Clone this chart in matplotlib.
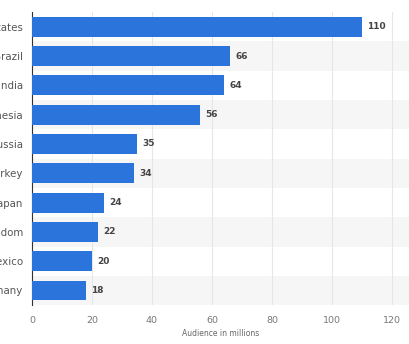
import matplotlib.pyplot as plt
import numpy as np

countries = ["United States", "Brazil", "India", "Indonesia", "Russia",
             "Turkey", "Japan", "United Kingdom", "Mexico", "Germany"]
audience = [110, 66, 64, 56, 35, 34, 24, 22, 20, 18]
xticks = [0, 20, 40, 60, 80, 100, 120]

fig = plt.figure(figsize=(4.1, 3.44), dpi=100)
ax = fig.add_axes([0.078, 0.113, 0.922, 0.852])

y = np.arange(len(countries))
for i in y:
    if i % 2 == 1:
        ax.axhspan(i - 0.5, i + 0.5, color="#f6f6f6", zorder=0, lw=0)

ax.barh(y, audience, height=0.68, color="#2a74dc", zorder=3)
for yi, v in zip(y, audience):
    ax.text(v + 1.7, yi, str(v), va="center", ha="left", fontsize=6.5,
            fontweight="bold", color="#444444", zorder=4)

ax.set_xlim(0, 126)
ax.set_ylim(len(countries) - 0.5, -0.5)
ax.set_yticks(y)
ax.set_yticklabels(countries)
ax.set_xticks(xticks)
ax.grid(axis="x", color="#e6e6e6", lw=0.8, zorder=1)
ax.tick_params(axis="both", length=0)
ax.tick_params(axis="y", pad=6.5, labelsize=7.4, colors="#555555")
ax.tick_params(axis="x", pad=8, labelsize=6.8, colors="#777777")
for s in ["top", "right", "bottom"]:
    ax.spines[s].set_visible(False)
ax.spines["left"].set_color("#333333")
ax.spines["left"].set_linewidth(0.8)
ax.set_xlabel("Audience in millions", fontsize=5.5, color="#666666", labelpad=3)

fig.savefig("out.png", dpi=100)
